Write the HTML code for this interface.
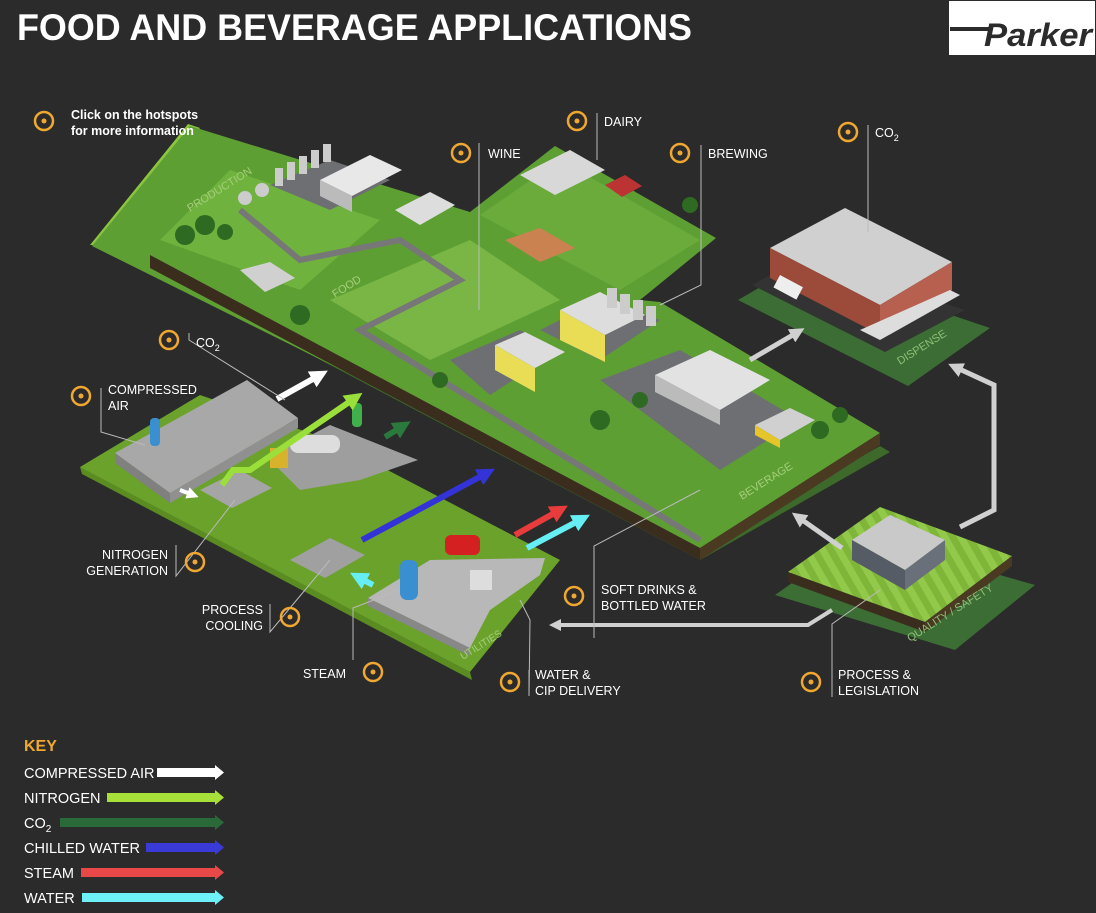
<!DOCTYPE html>
<html><head><meta charset="utf-8"><style>
html,body{margin:0;padding:0;background:#2b2b2b;}
svg{display:block;}
text{font-family:"Liberation Sans",sans-serif;fill:#fff;}
</style></head><body>
<svg width="1096" height="913" viewBox="0 0 1096 913" xmlns="http://www.w3.org/2000/svg">
<defs>
<marker id="ah" markerWidth="3" markerHeight="3" refX="1.5" refY="1.5" orient="auto"><path d="M0,0L3,1.5L0,3z" fill="context-stroke"/></marker>
<pattern id="stripe" width="14" height="14" patternUnits="userSpaceOnUse" patternTransform="rotate(-30)"><rect width="14" height="14" fill="#7fb63a"/><rect width="7" height="14" fill="#93c94a"/></pattern>
</defs>
<rect width="1096" height="913" fill="#2b2b2b"/>

<!-- title -->
<text x="17" y="40" font-size="37" font-weight="bold" textLength="675" lengthAdjust="spacingAndGlyphs">FOOD AND BEVERAGE APPLICATIONS</text>
<!-- logo -->
<rect x="949" y="1" width="146" height="54" fill="#fff"/>
<rect x="950" y="27" width="40" height="4" fill="#2b2b2b"/>
<text x="984" y="46" font-size="32" font-weight="bold" font-style="italic" style="fill:#2b2b2b" textLength="108" lengthAdjust="spacingAndGlyphs">Parker</text>

<!-- utilities plate -->
<polygon points="80,467 200,395 330,440 560,560 470,672 90,475" fill="#6aa22c"/>
<polygon points="80,467 470,672 472,680 82,474" fill="#5a8c22"/>
<!-- main shadow plate -->
<polygon points="150,270 700,560 890,452 880,446 700,548" fill="#3d6a2a"/>
<!-- production lime rim -->
<polygon points="90,245 188,124 200,128 110,245" fill="#8cc63f"/>
<!-- main platform grass -->
<polygon points="92,246 190,126 470,212 555,146 716,238 640,300 660,302 880,433 700,548" fill="#5e9f34"/>
<polygon points="150,255 700,548 700,560 150,268" fill="#3a2d1e"/>
<polygon points="700,548 880,433 880,445 700,560" fill="#4a3a22"/>
<!-- lighter grass patches -->
<polygon points="160,240 230,170 380,220 300,290" fill="#6fb23e"/>
<polygon points="330,300 470,240 560,300 430,360" fill="#79b645"/>
<polygon points="480,215 560,160 700,240 620,290" fill="#6aab3c"/>
<!-- roads -->
<polyline points="240,210 300,260 400,240 460,280 360,330 700,540" fill="none" stroke="#777" stroke-width="6"/>
<polygon points="600,380 680,350 800,420 720,470" fill="#6d6f73"/>
<polygon points="450,360 520,330 560,350 490,395" fill="#6d6f73"/>
<polygon points="540,330 600,300 660,320 600,360" fill="#6d6f73"/>
<polygon points="270,185 330,160 390,180 330,210" fill="#6d6f73"/>
<!-- buildings -->
<polygon points="320,180 370,155 402,170 352,196" fill="#e8e8e8"/>
<polygon points="320,180 352,196 352,212 320,196" fill="#bbb"/>
<polygon points="395,210 430,192 455,205 420,225" fill="#ddd"/>
<polygon points="240,270 270,262 295,278 265,292" fill="#d0d0d0"/>
<polygon points="520,175 570,150 605,170 555,195" fill="#d8d8d8"/>
<polygon points="605,185 625,175 642,186 622,197" fill="#b33"/>
<polygon points="505,240 540,228 575,248 540,262" fill="#c98250"/>
<polygon points="560,310 600,292 645,315 605,335" fill="#ddd"/>
<polygon points="560,310 605,335 605,362 560,340" fill="#e8dd55"/>
<polygon points="495,345 525,332 565,352 535,368" fill="#ddd"/>
<polygon points="495,345 535,368 535,392 495,370" fill="#e8dd55"/>
<polygon points="655,375 710,350 770,380 720,410" fill="#e2e2e2"/>
<polygon points="655,375 720,410 720,425 655,392" fill="#bbb"/>
<polygon points="755,425 790,408 815,420 780,440" fill="#d0d0d0"/>
<polygon points="755,425 780,440 780,448 755,435" fill="#e6c52a"/>
<g fill="#ccc"><circle cx="245" cy="198" r="7"/><circle cx="262" cy="190" r="7"/><rect x="275" y="168" width="8" height="18"/><rect x="287" y="162" width="8" height="18"/><rect x="299" y="156" width="8" height="18"/><rect x="311" y="150" width="8" height="18"/><rect x="323" y="144" width="8" height="18"/><rect x="607" y="288" width="10" height="20"/><rect x="620" y="294" width="10" height="20"/><rect x="633" y="300" width="10" height="20"/><rect x="646" y="306" width="10" height="20"/></g>
<g fill="#2f6a22"><circle cx="185" cy="235" r="10"/><circle cx="205" cy="225" r="10"/><circle cx="225" cy="232" r="8"/><circle cx="300" cy="315" r="10"/><circle cx="440" cy="380" r="8"/><circle cx="600" cy="420" r="10"/><circle cx="640" cy="400" r="8"/><circle cx="820" cy="430" r="9"/><circle cx="840" cy="415" r="8"/><circle cx="690" cy="205" r="8"/></g>
<text x="190" y="212" font-size="11" transform="rotate(-32 190 212)" style="fill:#a5cf7a">PRODUCTION</text>
<text x="335" y="298" font-size="11" transform="rotate(-32 335 298)" style="fill:#a5cf7a">FOOD</text>
<text x="742" y="500" font-size="11" transform="rotate(-32 742 500)" style="fill:#a5cf7a">BEVERAGE</text>

<!-- utilities equipment -->
<polygon points="115,453 247,380 298,418 170,493" fill="#a8a8a8"/>
<polygon points="115,453 170,493 170,503 115,463" fill="#808080"/>
<polygon points="170,493 298,418 298,428 170,503" fill="#909090"/>
<rect x="150" y="418" width="10" height="28" rx="4" fill="#3a8fd0"/>
<polygon points="200,490 240,470 272,488 232,508" fill="#a5a5a5"/>
<polygon points="268,458 330,425 418,460 360,480 300,490" fill="#9e9e9e"/>
<rect x="290" y="435" width="50" height="18" rx="8" fill="#ddd"/>
<rect x="270" y="448" width="18" height="20" fill="#d8b22a"/>
<rect x="352" y="403" width="10" height="24" rx="4" fill="#3fb04a"/>
<polygon points="290,560 330,538 365,555 325,578" fill="#a0a0a0"/>
<polygon points="368,598 430,560 545,558 540,575 490,610 470,648" fill="#b8b8b8"/>
<polygon points="368,598 470,648 470,656 368,606" fill="#888"/>
<rect x="400" y="560" width="18" height="40" rx="7" fill="#3a8fd0"/>
<rect x="445" y="535" width="35" height="20" rx="6" fill="#d42020"/>
<rect x="470" y="570" width="22" height="20" fill="#ddd"/>
<text x="463" y="660" font-size="10" transform="rotate(-32 463 660)" style="fill:#a5cf7a">UTILITIES</text>

<!-- dispense -->
<polygon points="738,300 800,264 990,328 908,386" fill="#3b6d34"/>
<polygon points="752,285 800,258 965,310 885,352" fill="#333"/>
<polygon points="770,248 845,208 952,262 880,305" fill="#d0d0d0"/>
<polygon points="770,248 880,305 880,335 770,278" fill="#9c4a3a"/>
<polygon points="880,305 952,262 952,290 880,335" fill="#b86050"/>
<polygon points="860,330 880,340 960,295 950,290" fill="#ddd"/>
<rect x="780" y="275" width="26" height="14" fill="#eee" transform="rotate(28 780 275)"/>
<text x="900" y="365" font-size="11" transform="rotate(-32 900 365)" style="fill:#8fc078">DISPENSE</text>

<!-- quality -->
<polygon points="775,595 860,535 1035,585 955,650" fill="#3b6d34"/>
<polygon points="788,572 880,507 1012,556 925,622" fill="url(#stripe)"/>
<polygon points="788,572 925,622 925,632 788,582" fill="#3a2d1e"/>
<polygon points="925,622 1012,556 1012,566 925,632" fill="#4a3a22"/>
<polygon points="852,540 890,515 945,540 905,570" fill="#c9c9c9"/>
<polygon points="852,540 905,570 905,590 852,560" fill="#555c66"/>
<polygon points="905,570 945,540 945,560 905,590" fill="#6a707a"/>
<text x="910" y="642" font-size="11" transform="rotate(-32 910 642)" style="fill:#8fc078">QUALITY / SAFETY</text>

<!-- flow arrows -->
<g fill="none" stroke-linecap="butt">
<line x1="277" y1="399" x2="320" y2="375" stroke="#fff" stroke-width="6" marker-end="url(#ah)"/>
<line x1="180" y1="490" x2="193" y2="495" stroke="#fff" stroke-width="4" marker-end="url(#ah)"/>
<polyline points="222,485 233,470 250,470 355,398" stroke="#9be03a" stroke-width="6" marker-end="url(#ah)"/>
<line x1="385" y1="437" x2="403" y2="426" stroke="#2a7a3e" stroke-width="6" marker-end="url(#ah)"/>
<line x1="362" y1="540" x2="487" y2="473" stroke="#3333d8" stroke-width="6" marker-end="url(#ah)"/>
<line x1="515" y1="535" x2="560" y2="510" stroke="#e83c3c" stroke-width="6" marker-end="url(#ah)"/>
<line x1="527" y1="548" x2="582" y2="519" stroke="#66eef5" stroke-width="6" marker-end="url(#ah)"/>
<line x1="373" y1="585" x2="358" y2="577" stroke="#66eef5" stroke-width="6" marker-end="url(#ah)"/>
<line x1="750" y1="360" x2="798" y2="332" stroke="#d0d0d0" stroke-width="5" marker-end="url(#ah)"/>
<polyline points="960,527 994,510 994,385 955,367" stroke="#d0d0d0" stroke-width="5" marker-end="url(#ah)"/>
<line x1="842" y1="548" x2="798" y2="517" stroke="#d0d0d0" stroke-width="5" marker-end="url(#ah)"/>
<polyline points="832,610 808,625 555,625" stroke="#d0d0d0" stroke-width="4" marker-end="url(#ah)"/>
</g>

<!-- leader lines -->
<g stroke="#bbb" stroke-width="1" fill="none">
<polyline points="479,143 479,310"/>
<polyline points="597,113 597,160"/>
<polyline points="701,145 701,285 660,305"/>
<polyline points="868,125 868,232"/>
<polyline points="189,333 189,340 285,400"/>
<polyline points="101,388 101,432 145,445"/>
<polyline points="176,545 176,576 235,500"/>
<polyline points="270,604 270,632 330,560"/>
<polyline points="353,660 353,608 400,590"/>
<polyline points="529,670 529,696 530,620 520,600"/>
<polyline points="594,585 594,638 594,546 700,490"/>
<polyline points="832,668 832,697 832,624 880,590"/>
</g>

<!-- hotspots -->
<g fill="none" stroke="#f0a830" stroke-width="2.5">
<circle cx="44" cy="121" r="9"/><circle cx="461" cy="153" r="9"/><circle cx="577" cy="121" r="9"/><circle cx="680" cy="153" r="9"/><circle cx="848" cy="132" r="9"/><circle cx="169" cy="340" r="9"/><circle cx="81" cy="396" r="9"/><circle cx="195" cy="562" r="9"/><circle cx="290" cy="617" r="9"/><circle cx="373" cy="672" r="9"/><circle cx="510" cy="682" r="9"/><circle cx="574" cy="596" r="9"/><circle cx="811" cy="682" r="9"/>
</g>
<g fill="#f0a830">
<circle cx="44" cy="121" r="2.5"/><circle cx="461" cy="153" r="2.5"/><circle cx="577" cy="121" r="2.5"/><circle cx="680" cy="153" r="2.5"/><circle cx="848" cy="132" r="2.5"/><circle cx="169" cy="340" r="2.5"/><circle cx="81" cy="396" r="2.5"/><circle cx="195" cy="562" r="2.5"/><circle cx="290" cy="617" r="2.5"/><circle cx="373" cy="672" r="2.5"/><circle cx="510" cy="682" r="2.5"/><circle cx="574" cy="596" r="2.5"/><circle cx="811" cy="682" r="2.5"/>
</g>

<!-- labels -->
<g font-size="12.5">
<text x="71" y="119" font-weight="bold">Click on the hotspots</text>
<text x="71" y="135" font-weight="bold">for more information</text>
<text x="488" y="158">WINE</text>
<text x="604" y="126">DAIRY</text>
<text x="708" y="158">BREWING</text>
<text x="875" y="137">CO<tspan font-size="9" dy="4">2</tspan></text>
<text x="196" y="347">CO<tspan font-size="9" dy="4">2</tspan></text>
<text x="108" y="394">COMPRESSED</text>
<text x="108" y="410">AIR</text>
<text x="168" y="559" text-anchor="end">NITROGEN</text>
<text x="168" y="575" text-anchor="end">GENERATION</text>
<text x="263" y="614" text-anchor="end">PROCESS</text>
<text x="263" y="630" text-anchor="end">COOLING</text>
<text x="346" y="678" text-anchor="end">STEAM</text>
<text x="535" y="679">WATER &amp;</text>
<text x="535" y="695">CIP DELIVERY</text>
<text x="601" y="594">SOFT DRINKS &amp;</text>
<text x="601" y="610">BOTTLED WATER</text>
<text x="838" y="679">PROCESS &amp;</text>
<text x="838" y="695">LEGISLATION</text>
</g>

<!-- key -->
<text x="24" y="751" font-size="16" font-weight="bold" style="fill:#f0a830">KEY</text>
<g font-size="14.5">
<text x="24" y="778">COMPRESSED AIR</text>
<text x="24" y="803">NITROGEN</text>
<text x="24" y="828">CO<tspan font-size="10" dy="4">2</tspan></text>
<text x="24" y="853">CHILLED WATER</text>
<text x="24" y="878">STEAM</text>
<text x="24" y="903">WATER</text>
</g>
<g>
<rect x="157" y="768" width="59" height="9" fill="#fff"/><polygon points="215,765 224,772.5 215,780" fill="#fff"/>
<rect x="107" y="793" width="109" height="9" fill="#a8e03a"/><polygon points="215,790 224,797.5 215,805" fill="#a8e03a"/>
<rect x="60" y="818" width="156" height="9" fill="#2a6a3a"/><polygon points="215,815 224,822.5 215,830" fill="#2a6a3a"/>
<rect x="146" y="843" width="70" height="9" fill="#3a3ad8"/><polygon points="215,840 224,847.5 215,855" fill="#3a3ad8"/>
<rect x="81" y="868" width="135" height="9" fill="#e84848"/><polygon points="215,865 224,872.5 215,880" fill="#e84848"/>
<rect x="82" y="893" width="134" height="9" fill="#6ef0f8"/><polygon points="215,890 224,897.5 215,905" fill="#6ef0f8"/>
</g>
</svg>
</body></html>
